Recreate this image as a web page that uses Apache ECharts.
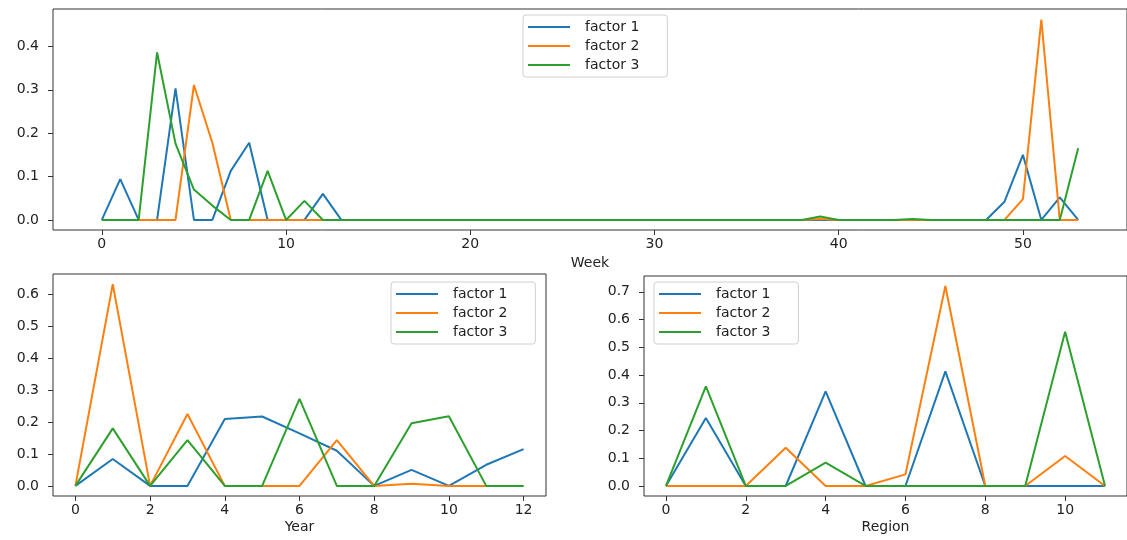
<!DOCTYPE html>
<html>
<head>
<meta charset="utf-8">
<script src="https://cdn.jsdelivr.net/npm/echarts@6/dist/echarts.min.js"></script>
<style>
html,body{margin:0;padding:0;background:#fff;}
#chart{width:1127px;height:540px;}
</style>
</head>
<body>
<div id="chart"></div>
<script>
// ---------- data ----------
const seriesNames = ['factor 1', 'factor 2', 'factor 3'];

const weeks = Array.from({length: 54}, (_, i) => i);
const weekFactor1 = [0,0.094,0,0,0.303,0,0,0.113,0.178,0,0,0,0.06,0,0,0,0,0,0,0,0,0,0,0,0,0,0,0,0,0,0,0,0,0,0,0,0,0,0,0,0,0,0,0,0,0,0,0,0,0.042,0.150,0,0.052,0];
const weekFactor2 = [0,0,0,0,0,0.311,0.178,0,0,0,0,0,0,0,0,0,0,0,0,0,0,0,0,0,0,0,0,0,0,0,0,0,0,0,0,0,0,0,0,0.002,0,0,0,0,0,0,0,0,0,0,0.048,0.462,0,0];
const weekFactor3 = [0,0,0,0.386,0.176,0.07,0.033,0,0,0.113,0,0.044,0,0,0,0,0,0,0,0,0,0,0,0,0,0,0,0,0,0,0,0,0,0,0,0,0,0,0,0.008,0,0,0,0,0.002,0,0,0,0,0,0,0,0,0.165];

const years = [0,1,2,3,4,5,6,7,8,9,10,11,12];
const yearFactor1 = [0,0.084,0,0,0.209,0.217,0.164,0.11,0,0.05,0,0.066,0.115];
const yearFactor2 = [0,0.631,0,0.225,0,0,0,0.143,0,0.007,0,0,0];
const yearFactor3 = [0,0.18,0,0.143,0,0,0.272,0,0,0.196,0.218,0,0];

const regions = [0,1,2,3,4,5,6,7,8,9,10,11];
const regionFactor1 = [0,0.245,0,0,0.341,0,0,0.413,0,0,0,0];
const regionFactor2 = [0,0,0,0.138,0,0,0.042,0.721,0,0,0.108,0];
const regionFactor3 = [0,0.359,0,0,0.084,0,0,0,0,0,0.556,0];

const weekTicks = [0,10,20,30,40,50];
const weekYTicks = [0,0.1,0.2,0.3,0.4];
const yearTicks = [0,2,4,6,8,10,12];
const yearYTicks = [0,0.1,0.2,0.3,0.4,0.5,0.6];
const regionTicks = [0,2,4,6,8,10];
const regionYTicks = [0,0.1,0.2,0.3,0.4,0.5,0.6,0.7];

// ---------- styling ----------
const colors = ['#1f77b4', '#ff7f0e', '#2ca02c'];
const FONT = 'DejaVu Sans';
const TXT = '#222';

function pairs(xs, ys) { return xs.map((x, i) => [x, ys[i]]); }

function xAxis(gridIndex, min, max, ticks, name, nameGap) {
  return {
    type: 'value', gridIndex, min, max, name, nameLocation: 'middle', nameGap,
    position: 'bottom',
    nameTextStyle: {fontFamily: FONT, fontSize: 14, color: TXT},
    axisLine: {show: false, onZero: false},
    splitLine: {show: false},
    axisTick: {show: true, length: 5, customValues: ticks, lineStyle: {color: '#333', width: 1}},
    axisLabel: {customValues: ticks, margin: 7, fontFamily: FONT, fontSize: 14, color: TXT,
      formatter: v => String(Math.round(v))}
  };
}
function yAxis(gridIndex, min, max, ticks) {
  return {
    type: 'value', gridIndex, min, max,
    position: 'left',
    axisLine: {show: false, onZero: false},
    splitLine: {show: false},
    axisTick: {show: true, length: 5, customValues: ticks, lineStyle: {color: '#333', width: 1}},
    axisLabel: {customValues: ticks, margin: 14, fontFamily: FONT, fontSize: 14, color: TXT,
      formatter: v => v.toFixed(1)}
  };
}
function legend(left, top) {
  return {
    data: seriesNames, orient: 'vertical', left, top,
    icon: 'rect', itemWidth: 42, itemHeight: 2, itemGap: 5,
    padding: [5, 28, 5, 5],
    borderColor: '#d0d0d0', borderWidth: 1, borderRadius: 3,
    backgroundColor: 'rgba(255,255,255,0.8)',
    textStyle: {fontFamily: FONT, fontSize: 14, color: TXT, lineHeight: 14, padding: [0, 0, 0, 10]}
  };
}
function lineSeries(name, idx, data) {
  return {
    type: 'line', name, xAxisIndex: idx, yAxisIndex: idx, data,
    showSymbol: false, symbol: 'none',
    lineStyle: {width: 2, color: colors[seriesNames.indexOf(name)]},
    itemStyle: {color: colors[seriesNames.indexOf(name)]},
    emphasis: {disabled: true}
  };
}

const gridStyle = {show: true, borderColor: '#333', borderWidth: 1, backgroundColor: '#fff'};

const option = {
  animation: false,
  backgroundColor: '#fff',
  color: colors,
  grid: [
    Object.assign({left: 53, right: -10, top: 9, height: 221}, gridStyle),
    Object.assign({left: 53, right: 581, top: 274, height: 222}, gridStyle),
    Object.assign({left: 644, right: -9, top: 276, height: 220}, gridStyle)
  ],
  xAxis: [
    xAxis(0, -2.65, 55.65, weekTicks, 'Week', 26),
    xAxis(1, -0.6, 12.6, yearTicks, 'Year', 24),
    xAxis(2, -0.55, 11.55, regionTicks, 'Region', 24)
  ],
  yAxis: [
    yAxis(0, -0.0232, 0.4862, weekYTicks),
    yAxis(1, -0.0316, 0.6626, yearYTicks),
    yAxis(2, -0.0361, 0.7571, regionYTicks)
  ],
  legend: [legend(523, 15), legend(391, 282), legend(654, 282)],
  series: [
    lineSeries('factor 1', 0, pairs(weeks, weekFactor1)),
    lineSeries('factor 2', 0, pairs(weeks, weekFactor2)),
    lineSeries('factor 3', 0, pairs(weeks, weekFactor3)),
    lineSeries('factor 1', 1, pairs(years, yearFactor1)),
    lineSeries('factor 2', 1, pairs(years, yearFactor2)),
    lineSeries('factor 3', 1, pairs(years, yearFactor3)),
    lineSeries('factor 1', 2, pairs(regions, regionFactor1)),
    lineSeries('factor 2', 2, pairs(regions, regionFactor2)),
    lineSeries('factor 3', 2, pairs(regions, regionFactor3))
  ]
};

const chart = echarts.init(document.getElementById('chart'), null, {renderer: 'canvas'});
chart.setOption(option);
</script>
</body>
</html>
